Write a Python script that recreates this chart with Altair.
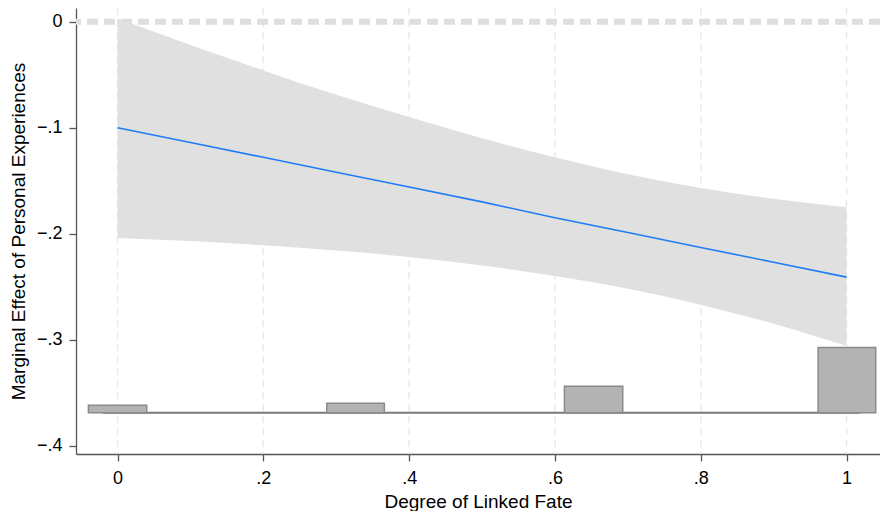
import altair as alt
import pandas as pd

# Marginal effect curve and 95% CI
x_grid = [0.0, 0.1, 0.2, 0.3, 0.4, 0.5, 0.6, 0.7, 0.8, 0.9, 1.0]
effect = [-0.100, -0.114, -0.128, -0.142, -0.156, -0.170, -0.185, -0.199, -0.213, -0.227, -0.241]
ci_upper = [0.003, -0.022, -0.046, -0.069, -0.090, -0.110, -0.128, -0.144, -0.157, -0.167, -0.175]
ci_lower = [-0.204, -0.207, -0.211, -0.216, -0.222, -0.230, -0.240, -0.252, -0.267, -0.285, -0.306]

# Histogram of linked fate (drawn at the bottom)
bin_start = [-0.040, 0.287, 0.613, 0.961]
bin_end = [0.040, 0.366, 0.693, 1.040]
bin_top = [-0.362, -0.360, -0.344, -0.3075]
hist_base = -0.369
base_from, base_to = -0.02, 1.019

x_ticks = [0, 0.2, 0.4, 0.6, 0.8, 1]
y_ticks = [-0.4, -0.3, -0.2, -0.1, 0]

XDOM = [-0.057, 1.0459]
YDOM = [-0.4079, 0.0129]

FONT = "Liberation Sans"
AX = "#555555"
FS = 18
TFS = 19

label_expr = ("datum.value == 0 ? '0' : datum.value == 1 ? '1' : "
              "replace(replace(format(datum.value, '.1f'), '0.', '.'), '-', '\u2212')")

curve = pd.DataFrame({"x": x_grid, "y": effect, "lo": ci_lower, "hi": ci_upper})
hist = pd.DataFrame({"x": bin_start, "x2": bin_end, "top": bin_top,
                     "base": [hist_base] * len(bin_start)})
base_df = pd.DataFrame({"x": [base_from], "x2": [base_to], "y": [hist_base]})
grid_df = pd.DataFrame({"x": x_ticks})
zero_df = pd.DataFrame({"y": [0.0]})

xscale = alt.Scale(domain=XDOM, nice=False, zero=False)
yscale = alt.Scale(domain=YDOM, nice=False, zero=False)

xaxis = alt.Axis(values=x_ticks, labelExpr=label_expr, title="Degree of Linked Fate",
                 grid=False, domainColor=AX, domainWidth=1.3, tickColor=AX,
                 tickWidth=1.3, tickSize=7, labelPadding=8, labelFontSize=FS,
                 titleFontSize=TFS, titleFontWeight="normal", titlePadding=5,
                 labelFont=FONT, titleFont=FONT, labelColor="black",
                 titleColor="black")
yaxis = alt.Axis(values=y_ticks, labelExpr=label_expr,
                 title="Marginal Effect of Personal Experiences",
                 grid=False, domainColor=AX, domainWidth=1.3, tickColor=AX,
                 tickWidth=1.3, tickSize=7, labelPadding=7, labelFontSize=FS,
                 titleFontSize=TFS, titleFontWeight="normal", titlePadding=8,
                 labelFont=FONT, titleFont=FONT, labelColor="black",
                 titleColor="black")

grid = alt.Chart(grid_df).mark_rule(color="#e9e9e9", strokeWidth=1.5,
                                    strokeDash=[7, 5]).encode(
    x=alt.X("x:Q", scale=xscale, axis=xaxis),
)

zero = alt.Chart(zero_df).mark_rule(color="#dedede", strokeWidth=6,
                                    strokeDash=[11, 6]).encode(
    y=alt.Y("y:Q", scale=yscale, axis=yaxis),
)

band = alt.Chart(curve).mark_area(color="#e0e0e0", opacity=1,
                                  interpolate="monotone").encode(
    x=alt.X("x:Q", scale=xscale),
    y=alt.Y("lo:Q", scale=yscale),
    y2="hi:Q",
)

line = alt.Chart(curve).mark_line(color="#1E7DF5", strokeWidth=1.6).encode(
    x=alt.X("x:Q", scale=xscale),
    y=alt.Y("y:Q", scale=yscale),
)

baseline = alt.Chart(base_df).mark_rule(color="#7a7a7a", strokeWidth=2).encode(
    x=alt.X("x:Q", scale=xscale),
    x2="x2:Q",
    y=alt.Y("y:Q", scale=yscale),
)

bars = alt.Chart(hist).mark_rect(fill="#b3b3b3", stroke="#8a8a8a",
                                 strokeWidth=1.5).encode(
    x=alt.X("x:Q", scale=xscale),
    x2="x2:Q",
    y=alt.Y("top:Q", scale=yscale),
    y2="base:Q",
)

chart = alt.layer(grid, zero, band, line, baseline, bars).properties(
    width=804,
    height=446,
    autosize=alt.AutoSizeParams(type="none"),
    padding={"left": 68, "top": 0, "right": 0, "bottom": 57},
    background="white",
).configure_view(stroke=None)

chart.save("out.html", embed_options={"renderer": "svg", "actions": False})
